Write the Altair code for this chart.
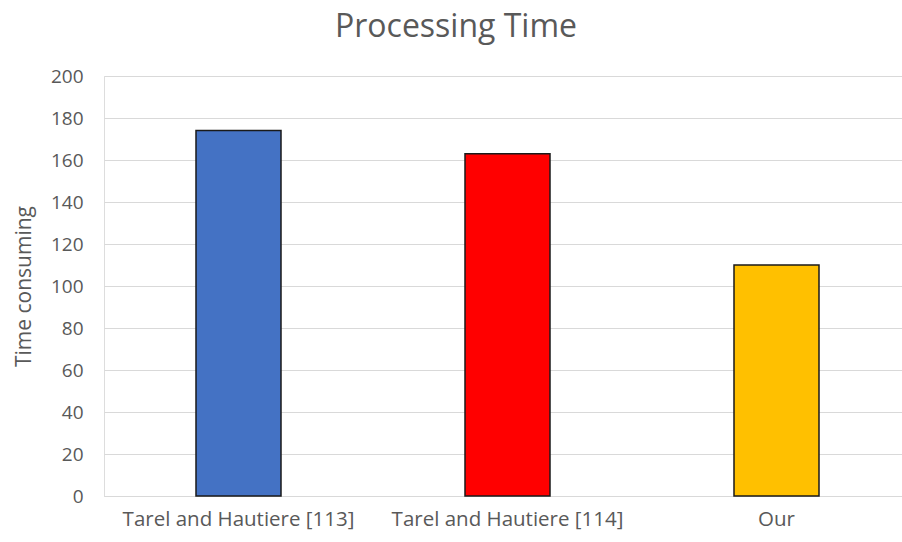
import altair as alt
import pandas as pd

# Processing time per method
methods = ["Tarel and Hautiere [113]", "Tarel and Hautiere [114]", "Our"]
times = [174, 163, 110]
bar_colors = ["#4472C4", "#FF0000", "#FFC000"]
y_ticks = [0, 20, 40, 60, 80, 100, 120, 140, 160, 180, 200]

df = pd.DataFrame({"method": methods, "time": times})

FONT = "Open Sans"
GREY = "#595959"

bars = alt.Chart(df).mark_bar(
    stroke="#1a1a1a", strokeWidth=1.5
).encode(
    x=alt.X(
        "method:N",
        sort=methods,
        title=None,
        scale=alt.Scale(range=[0, 807], paddingInner=0.684, paddingOuter=0.342),
        axis=alt.Axis(
            labelAngle=0, labelFont=FONT, labelFontSize=20.5, labelColor=GREY,
            labelPadding=13, labelLimit=0, ticks=False,
            domainColor="#d9d9d9", domainWidth=1, grid=False,
        ),
    ),
    y=alt.Y(
        "time:Q",
        title="Time consuming",
        scale=alt.Scale(domain=[0, 200], nice=False),
        axis=alt.Axis(
            values=y_ticks, labelFont=FONT, labelFontSize=19, labelColor=GREY,
            labelPadding=21, ticks=False, domain=False,
            gridColor="#d9d9d9", gridWidth=1,
            titleFont=FONT, titleFontSize=21, titleColor=GREY,
            titleFontWeight="normal", titlePadding=16,
        ),
    ),
    color=alt.Color(
        "method:N", sort=methods,
        scale=alt.Scale(domain=methods, range=bar_colors), legend=None,
    ),
)

chart = bars.properties(
    width=798,
    height=420,
    title=alt.TitleParams(
        "Processing Time", font=FONT, fontSize=32, color=GREY,
        fontWeight="normal", anchor="middle", dx=-47, offset=23,
    ),
    autosize=alt.AutoSizeParams(type="none"),
    padding={"left": 104, "top": 76, "right": 0, "bottom": 40},
).configure_view(stroke=None).configure(background="white")

chart.save("out.html", embed_options={"renderer": "svg", "actions": False})
